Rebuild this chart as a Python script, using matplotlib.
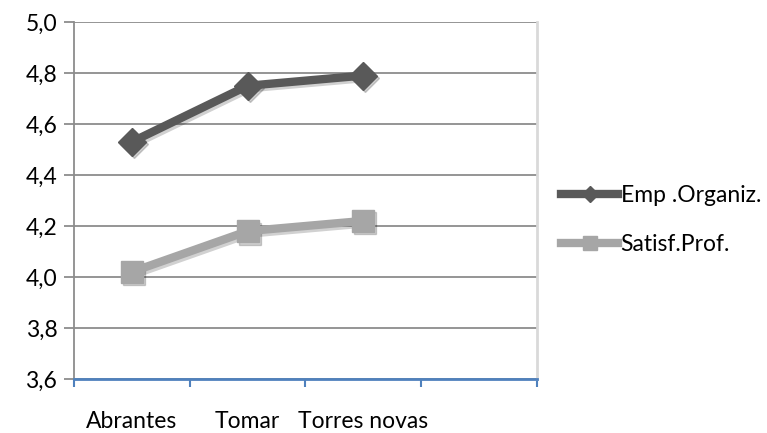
import matplotlib
matplotlib.use("Agg")
import matplotlib.pyplot as plt
import matplotlib.transforms as mtransforms

# data
categories = ["Abrantes", "Tomar", "Torres novas", ""]
emp_organiz = [4.53, 4.75, 4.79]
satisf_prof = [4.02, 4.18, 4.22]
yticks = [3.6, 3.8, 4.0, 4.2, 4.4, 4.6, 4.8, 5.0]

plt.rcParams['font.family'] = ['Lato', 'DejaVu Sans']
fs = 16.5

fig = plt.figure(figsize=(7.67, 4.33), dpi=100)
ax = fig.add_axes([74/767, 1 - 379/433, (537-74)/767, (379-22)/433])

# soft drop shadow under the series
shadow_tr = mtransforms.offset_copy(ax.transData, fig=fig, x=2, y=-2.5, units='dots')
x = list(range(len(emp_organiz)))
for vals, mk, ms in [(emp_organiz, 'D', 14), (satisf_prof, 's', 16)]:
    ax.plot(x, vals, color='black', alpha=0.18, lw=6, marker=mk, markersize=ms,
            transform=shadow_tr, zorder=2)

ax.plot(x, emp_organiz, color='#595959', lw=6, marker='D', markersize=14,
        label='Emp .Organiz.', zorder=4)
ax.plot(x, satisf_prof, color='#A6A6A6', lw=6, marker='s', markersize=16,
        label='Satisf.Prof.', zorder=3)

ax.set_xlim(-0.5, len(categories) - 0.5)
ax.set_ylim(3.6, 5.0)
ax.set_yticks(yticks)
ax.set_yticklabels([f"{v:.1f}".replace('.', ',') for v in yticks], fontsize=fs)
ax.yaxis.grid(True, color='#8C8C8C', lw=1.3)
ax.set_axisbelow(True)

# x axis: ticks at category boundaries, labels at centres
ax.set_xticks([i - 0.5 for i in range(len(categories) + 1)])
ax.set_xticklabels([])
ax.set_xticks(range(len(categories)), minor=True)
ax.set_xticklabels(categories, minor=True, fontsize=fs)
ax.tick_params(axis='x', which='major', length=6, width=1.5, color='#4F81BD', direction='out')
ax.tick_params(axis='x', which='minor', length=0, pad=23)
ax.tick_params(axis='y', length=7, width=1.3, color='#8C8C8C', pad=5)

for s in ['top', 'right']:
    ax.spines[s].set_visible(False)
ax.spines['left'].set_color('#8C8C8C')
ax.spines['left'].set_linewidth(1.3)
ax.spines['bottom'].set_color('#4F81BD')
ax.spines['bottom'].set_linewidth(2)
ax.spines['bottom'].set_zorder(5)
ax.plot([1, 1], [0, 1], transform=ax.transAxes, color='#D9D9D9', lw=2, clip_on=False)

leg = ax.legend(loc='center left', bbox_to_anchor=(1.0, 0.445), frameon=False,
                fontsize=fs, handlelength=2.5, handletextpad=0.1, labelspacing=1.25,
                borderaxespad=0.65, markerscale=0.6)

fig.savefig("out.png", dpi=100)
